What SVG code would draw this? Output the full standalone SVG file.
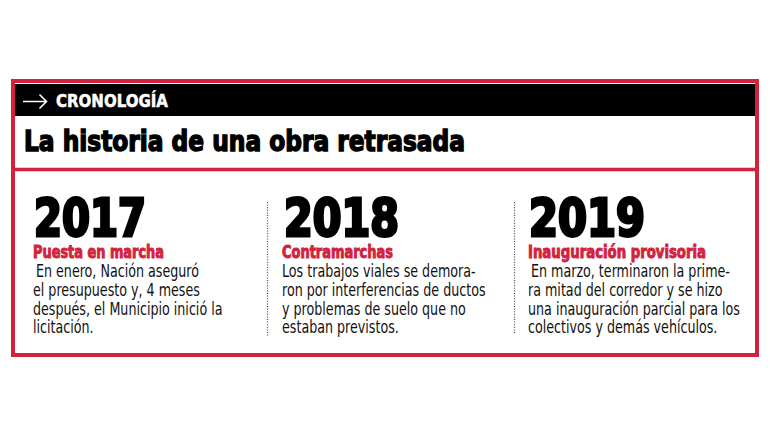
<svg xmlns="http://www.w3.org/2000/svg" width="770" height="433" viewBox="0 0 770 433">
<style>
.frame{fill:none;stroke:#d3223d;stroke-width:4}
.rule{stroke:#d3223d;stroke-width:3.5}
.sep{stroke:#444;stroke-width:1.2;stroke-dasharray:1 1.6}
.kicker{font-family:"Liberation Sans Narrow","DejaVu Sans Condensed",sans-serif;font-weight:bold;font-size:18px;fill:#fff;stroke:#fff;stroke-width:0.5}
.title{font-family:"Liberation Sans Narrow","DejaVu Sans Condensed",sans-serif;font-weight:bold;font-size:29px;fill:#000;stroke:#000;stroke-width:1.4}
.year{font-family:"Liberation Sans Narrow","DejaVu Sans Condensed",sans-serif;font-weight:bold;font-size:52px;fill:#000;stroke:#000;stroke-width:3}
.sub{font-family:"Liberation Sans Narrow","DejaVu Sans Condensed",sans-serif;font-weight:bold;font-size:17.5px;fill:#d3223d;stroke:#d3223d;stroke-width:0.9}
.body{font-family:"DejaVu Sans Condensed","Liberation Sans Narrow",sans-serif;font-size:17px;fill:#111}
</style>
<rect x="0" y="0" width="770" height="433" fill="#fff"/>
<g id="header">
<rect x="15" y="84" width="741" height="32" fill="#000"/>
<path d="M23 101.5 H46.5 M39.5 94.5 L46.5 101.5 L39.5 108.5" fill="none" stroke="#fff" stroke-width="1.6"/>
<text class="kicker" x="56" y="107" textLength="112" lengthAdjust="spacingAndGlyphs">CRONOLOGÍA</text>
</g>
<g id="title">
<text class="title" x="24" y="151" textLength="441" lengthAdjust="spacingAndGlyphs">La historia de una obra retrasada</text>
</g>
<rect class="frame" x="13" y="81" width="744" height="274"/>
<line class="rule" x1="13" y1="169.5" x2="757" y2="169.5"/>
<g id="separators">
<line class="sep" x1="267.5" y1="202" x2="267.5" y2="336"/>
<line class="sep" x1="514.5" y1="202" x2="514.5" y2="334"/>
</g>
<g id="node-2017">
<text class="year" x="34" y="236" textLength="112" lengthAdjust="spacingAndGlyphs">2017</text>
<text class="sub" x="33" y="258" textLength="131" lengthAdjust="spacingAndGlyphs">Puesta en marcha</text>
<g transform="translate(33,0) scale(0.83,1)">
<text class="body" x="3.6" y="277">En enero, Nación aseguró</text>
<text class="body" x="0" y="296">el presupuesto y, 4 meses</text>
<text class="body" x="0" y="315">después, el Municipio inició la</text>
<text class="body" x="0" y="333">licitación.</text>
</g>
</g>
<g id="node-2018">
<text class="year" x="284" y="236" textLength="115" lengthAdjust="spacingAndGlyphs">2018</text>
<text class="sub" x="282" y="258" textLength="111" lengthAdjust="spacingAndGlyphs">Contramarchas</text>
<g transform="translate(282,0) scale(0.83,1)">
<text class="body" x="0" y="277">Los trabajos viales se demora-</text>
<text class="body" x="0" y="296">ron por interferencias de ductos</text>
<text class="body" x="0" y="315">y problemas de suelo que no</text>
<text class="body" x="0" y="333">estaban previstos.</text>
</g>
</g>
<g id="node-2019">
<text class="year" x="529" y="236" textLength="116" lengthAdjust="spacingAndGlyphs">2019</text>
<text class="sub" x="528" y="258" textLength="178" lengthAdjust="spacingAndGlyphs">Inauguración provisoria</text>
<g transform="translate(528,0) scale(0.83,1)">
<text class="body" x="3.6" y="277">En marzo, terminaron la prime-</text>
<text class="body" x="0" y="296">ra mitad del corredor y se hizo</text>
<text class="body" x="0" y="315">una inauguración parcial para los</text>
<text class="body" x="0" y="333">colectivos y demás vehículos.</text>
</g>
</g>
</svg>
